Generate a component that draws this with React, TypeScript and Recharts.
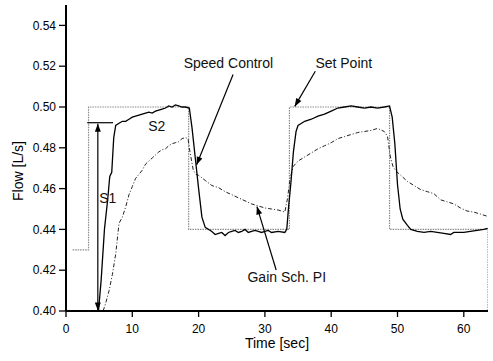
import React from "react";
import { LineChart, Line, XAxis, YAxis, ReferenceLine, ReferenceDot } from "recharts";

// set point (dotted grey step)
const spTime = [1, 3.4, 3.4, 18.5, 18.5, 33.7, 33.7, 48.8, 48.8, 63.65, 63.65];
const spFlow = [0.43, 0.43, 0.5, 0.5, 0.44, 0.44, 0.5, 0.5, 0.44, 0.44, 0.4];

// speed control (solid)
const scTime = [
  4.9, 5.3, 5.8, 6.3, 6.6, 6.9, 7.2, 7.5, 8, 8.5, 9, 9.5, 10, 10.5, 11, 11.5, 12, 12.5, 13, 13.5, 14, 14.5, 15,
  15.5, 16, 16.5, 17, 17.5, 18, 18.6, 19, 19.5, 20, 20.5, 21, 22, 22.5, 23, 23.5, 24, 24.5, 25, 25.5, 26, 26.5, 27,
  27.5, 28, 28.5, 29, 29.5, 30, 30.5, 31, 32, 33, 33.3, 33.6, 33.9, 34.3, 34.7, 35, 36, 37, 38, 39, 40, 41, 42, 43,
  44, 45, 46, 47, 48, 48.8, 49.2, 49.6, 50, 50.4, 50.8, 51.5, 52, 53, 54, 55, 56, 57, 58, 58.5, 59, 60, 61, 62, 63,
  63.6,
];
const scFlow = [
  0.4, 0.415, 0.44, 0.455, 0.466, 0.468, 0.485, 0.491, 0.492, 0.493, 0.493, 0.494, 0.495, 0.4955, 0.496, 0.4965,
  0.497, 0.4975, 0.497, 0.498, 0.4985, 0.499, 0.4995, 0.5005, 0.5, 0.501, 0.5005, 0.5, 0.5, 0.4995, 0.49, 0.475,
  0.46, 0.446, 0.441, 0.439, 0.4375, 0.438, 0.4385, 0.437, 0.4385, 0.439, 0.4395, 0.4385, 0.439, 0.44, 0.4385,
  0.439, 0.4395, 0.439, 0.4385, 0.439, 0.4395, 0.4385, 0.439, 0.4385, 0.44, 0.452, 0.462, 0.478, 0.488, 0.491,
  0.493, 0.494, 0.4955, 0.4965, 0.498, 0.4995, 0.5, 0.5005, 0.5, 0.4995, 0.5, 0.4995, 0.5, 0.5005, 0.495, 0.482,
  0.462, 0.45, 0.445, 0.442, 0.44, 0.439, 0.4385, 0.439, 0.4385, 0.438, 0.4375, 0.4385, 0.4385, 0.4385, 0.439,
  0.4395, 0.44, 0.4405,
];

// gain scheduled PI (dash-dot)
const gsTime = [
  5.6, 6, 6.5, 7, 7.5, 8, 8.5, 9, 9.5, 10, 10.5, 11, 11.5, 12, 12.5, 13, 13.5, 14, 14.5, 15, 15.5, 16, 16.5, 17,
  17.5, 18, 18.4, 18.7, 19.2, 19.6, 20, 21, 22, 23, 24, 25, 26, 27, 28, 29, 30, 31, 32, 33, 33.4, 33.8, 34.3, 35,
  36, 37, 38, 39, 40, 41, 42, 43, 44, 45, 46, 47, 48, 48.5, 48.9, 49.3, 49.8, 50.5, 51.5, 52.5, 53.5, 54.5, 55.5,
  56.5, 57.5, 58.5, 59.5, 60.5, 61.5, 62.5, 63.5,
];
const gsFlow = [
  0.4, 0.404, 0.41, 0.418, 0.428, 0.443, 0.446, 0.451, 0.457, 0.461, 0.465, 0.467, 0.469, 0.472, 0.4735, 0.475,
  0.4765, 0.478, 0.479, 0.4795, 0.481, 0.482, 0.4825, 0.483, 0.4845, 0.485, 0.4845, 0.478, 0.469, 0.467, 0.4665,
  0.464, 0.4615, 0.4605, 0.4585, 0.457, 0.4555, 0.454, 0.4525, 0.4515, 0.4505, 0.45, 0.4495, 0.4485, 0.455, 0.465,
  0.471, 0.4735, 0.4755, 0.4775, 0.4795, 0.481, 0.4825, 0.4845, 0.4855, 0.4865, 0.4875, 0.488, 0.4885, 0.4895,
  0.488, 0.4855, 0.476, 0.471, 0.4685, 0.4665, 0.4635, 0.4615, 0.4595, 0.4585, 0.4575, 0.4545, 0.4535, 0.4525,
  0.4505, 0.449, 0.4485, 0.4475, 0.4465,
];

const xTicks = [0, 10, 20, 30, 40, 50, 60];
const xMinor = [5, 15, 25, 35, 45, 55];
const yTicks = [0.4, 0.42, 0.44, 0.46, 0.48, 0.5, 0.52, 0.54];
const yMinor = [0.41, 0.43, 0.45, 0.47, 0.49, 0.51, 0.53, 0.55];

const toPoints = (t: number[], v: number[]) => t.map((x, i) => ({ t: x, v: v[i] }));
const setPoint = toPoints(spTime, spFlow);
const speedCtl = toPoints(scTime, scFlow);
const gainSch = toPoints(gsTime, gsFlow);

const X_DOMAIN: [number, number] = [0, 63.65];
const Y_DOMAIN: [number, number] = [0.4, 0.55];
const FONT = "'Liberation Sans', Arial, sans-serif";

function head(x1: number, y1: number, x2: number, y2: number) {
  // triangle at (x2,y2) pointing away from (x1,y1)
  const a = Math.atan2(y2 - y1, x2 - x1);
  const len = 8;
  const w = 3;
  const bx = x2 - len * Math.cos(a);
  const by = y2 - len * Math.sin(a);
  const px = -Math.sin(a) * w;
  const py = Math.cos(a) * w;
  return `${x2},${y2} ${bx + px},${by + py} ${bx - px},${by - py}`;
}

const arrow = (mode: "none" | "end" | "both") => (p: any) => {
  const { x1, y1, x2, y2 } = p;
  return (
    <g>
      <line x1={x1} y1={y1} x2={x2} y2={y2} stroke="#000" strokeWidth={1.2} />
      {mode !== "none" && <polygon points={head(x1, y1, x2, y2)} fill="#000" />}
      {mode === "both" && <polygon points={head(x2, y2, x1, y1)} fill="#000" />}
    </g>
  );
};

const note = (text: string, size = 14) => (p: any) => (
  <text x={p.cx} y={p.cy} dy="0.35em" textAnchor="middle" fontSize={size} fontFamily={FONT} fill="#111">
    {text}
  </text>
);

export default function App() {
  return (
    <div style={{ position: "absolute", left: 0, top: 0, background: "#fff" }}>
      <LineChart width={493} height={361} margin={{ top: 5, right: 5, left: 0, bottom: 0 }}>
        {/* minor tick axes first so they hug the plot */}
        <XAxis
          xAxisId="minor"
          type="number"
          domain={X_DOMAIN}
          ticks={xMinor}
          height={0}
          tick={false}
          tickSize={3}
          axisLine={false}
          tickLine={{ stroke: "#000", strokeWidth: 1.2 }}
          allowDataOverflow
        />
        <XAxis
          dataKey="t"
          type="number"
          domain={X_DOMAIN}
          ticks={xTicks}
          height={50}
          tickSize={6}
          tickMargin={7}
          allowDataOverflow
          axisLine={{ stroke: "#000", strokeWidth: 2 }}
          tickLine={{ stroke: "#000", strokeWidth: 1.3 }}
          tick={{ fontSize: 12, fill: "#000", fontFamily: FONT }}
          label={{ value: "Time [sec]", position: "insideBottom", offset: 13, fontSize: 14, fill: "#000", fontFamily: FONT }}
        />
        <XAxis
          xAxisId="top"
          orientation="top"
          type="number"
          domain={X_DOMAIN}
          ticks={[...xTicks, ...xMinor]}
          height={0}
          mirror
          tick={false}
          tickSize={4}
          axisLine={{ stroke: "#000", strokeWidth: 1.2 }}
          tickLine={{ stroke: "#000" }}
          allowDataOverflow
        />
        <YAxis
          yAxisId="minor"
          type="number"
          domain={Y_DOMAIN}
          ticks={yMinor}
          width={0}
          tick={false}
          tickSize={4}
          axisLine={false}
          tickLine={{ stroke: "#000", strokeWidth: 1.2 }}
          allowDataOverflow
        />
        <YAxis
          type="number"
          domain={Y_DOMAIN}
          ticks={yTicks}
          width={66}
          tickSize={7}
          tickMargin={3}
          allowDataOverflow
          tickFormatter={(v: number) => v.toFixed(2)}
          axisLine={{ stroke: "#000", strokeWidth: 2 }}
          tickLine={{ stroke: "#000", strokeWidth: 1.3 }}
          tick={{ fontSize: 12, fill: "#000", fontFamily: FONT }}
          label={({ viewBox }: any) => (
            <text
              x={viewBox.x + 18}
              y={viewBox.y + viewBox.height / 2 + 13}
              transform={`rotate(-90, ${viewBox.x + 18}, ${viewBox.y + viewBox.height / 2 + 13})`}
              textAnchor="middle"
              dominantBaseline="central"
              fontSize={14}
              fontFamily={FONT}
              fill="#000"
            >
              Flow [L/s]
            </text>
          )}
        />
        <YAxis
          yAxisId="right"
          orientation="right"
          type="number"
          domain={Y_DOMAIN}
          ticks={yTicks}
          width={0}
          mirror
          tick={false}
          tickSize={4}
          axisLine={{ stroke: "#000", strokeWidth: 1.2 }}
          tickLine={{ stroke: "#000" }}
          allowDataOverflow
        />

        <Line
          data={setPoint}
          dataKey="v"
          type="linear"
          stroke="#8a8a8a"
          strokeWidth={1.2}
          strokeDasharray="1.5 1"
          dot={false}
          isAnimationActive={false}
        />
        <Line
          data={gainSch}
          dataKey="v"
          type="linear"
          stroke="#222"
          strokeWidth={1}
          strokeDasharray="4 2 1 2"
          dot={false}
          isAnimationActive={false}
        />
        <Line
          data={speedCtl}
          dataKey="v"
          type="linear"
          stroke="#000"
          strokeWidth={1.3}
          dot={false}
          isAnimationActive={false}
        />

        {/* S1 / S2 markers */}
        <ReferenceLine segment={[{ x: 3.2, y: 0.4923 }, { x: 7.1, y: 0.4923 }]} shape={arrow("none")} />
        <ReferenceLine segment={[{ x: 4.8, y: 0.4918 }, { x: 4.8, y: 0.4003 }]} shape={arrow("both")} />
        <ReferenceDot x={6.3} y={0.4553} r={0} shape={note("S1")} />
        <ReferenceDot x={13.7} y={0.4905} r={0} shape={note("S2")} />

        {/* callouts */}
        <ReferenceDot x={24.5} y={0.5216} r={0} shape={note("Speed Control")} />
        <ReferenceLine segment={[{ x: 25.2, y: 0.5159 }, { x: 19.7, y: 0.4717 }]} shape={arrow("end")} />
        <ReferenceDot x={41.9} y={0.5216} r={0} shape={note("Set Point")} />
        <ReferenceLine segment={[{ x: 37.6, y: 0.5175 }, { x: 34.5, y: 0.5003 }]} shape={arrow("end")} />
        <ReferenceDot x={33.3} y={0.4165} r={0} shape={note("Gain Sch. PI")} />
        <ReferenceLine segment={[{ x: 31.7, y: 0.4201 }, { x: 28.8, y: 0.4512 }]} shape={arrow("end")} />
      </LineChart>
    </div>
  );
}
